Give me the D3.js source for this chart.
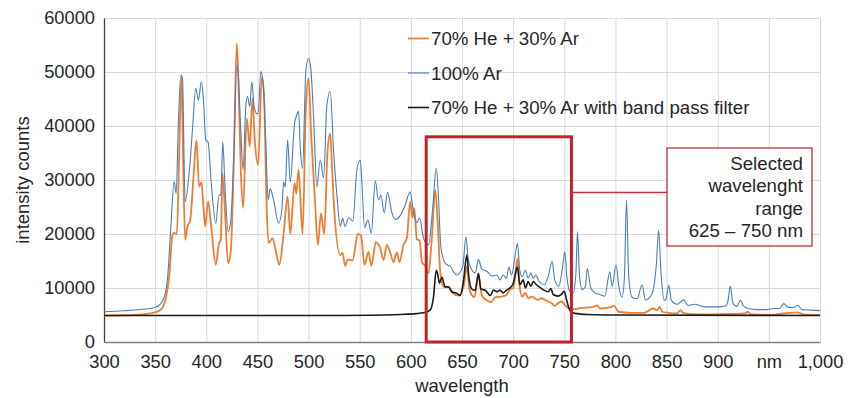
<!DOCTYPE html>
<html>
<head>
<meta charset="utf-8">
<script src="https://cdn.jsdelivr.net/npm/d3@7"></script>
<style>
  html, body { margin: 0; padding: 0; background: #fff; }
  svg { display: block; font-family: "Liberation Sans", Arial, sans-serif; }
</style>
</head>
<body>
<div id="chart"></div>
<script>
// 100% Ar
const arWl = [300, 320, 340, 350, 355, 359, 362, 365, 368.6, 370.5, 372.8, 375.1, 376.7, 379.3, 383.2, 386.5, 389.7, 392.3, 395.2, 397.2,
  399.5, 401.8, 404.4, 409.3, 412.5, 414.2, 416.1, 418.1, 421.4, 424, 427.2, 429.8, 431.1, 433.7, 436, 438.6, 440.3, 442.5, 444.5, 446.8,
  449.4, 450.7, 453.3, 455.3, 458.2, 460.5, 462.5, 465.8, 470.7, 473.9, 475.6, 477.2, 479.5, 482.1, 486.3, 488, 490.2, 491.9, 494.1, 497.4,
  500, 502, 504.9, 508.1, 511.4, 514.7, 517.9, 521.2, 524.4, 527.7, 531, 533.2, 535.8, 539.1, 543.3, 547.2, 550.5, 552.1, 554.7, 558,
  561.3, 565.2, 568.4, 570.7, 574, 577.2, 581.4, 584.7, 589.6, 594.5, 599.3, 602.6, 605.9, 608.5, 612.4, 617.3, 621.5, 624.8, 627, 629.3,
  633.6, 638.4, 644.9, 650.8, 653.8, 656, 658, 662.9, 666.1, 669.4, 674.3, 679.2, 684.1, 687, 690.2, 693.5, 695.8, 698.4, 702.3, 704.2,
  706.5, 708.8, 712, 714.7, 717.3, 719.6, 722.2, 725.4, 730.3, 734.2, 738.1, 740.7, 744.6, 747.9, 750.5, 752.5, 755.4, 758.7, 761.3, 762.9,
  764.8, 767.4, 770.7, 772.5, 775.9, 779.8, 784.7, 789.6, 794.5, 796.8, 800.6, 803.3, 806.5, 808.8, 810.8, 813, 816.3, 821.2, 826.1, 829.3,
  835.8, 840.1, 842.2, 844.6, 847.9, 849.9, 852.1, 854.7, 860.3, 866.8, 870.7, 878.2, 884.7, 892.9, 902.6, 908, 910.1, 912.2, 915, 918.9,
  922.2, 924.8, 929.4, 938.5, 948.3, 954.8, 960.6, 964.5, 968.4, 973.7, 978.2, 982.5, 990.6, 1000];
const arI = [5600, 5800, 6100, 6400, 7000, 8400, 11500, 20100, 29700, 27500, 41100, 49400, 48900, 26000, 31200, 39300, 47000, 44800, 48200, 44800,
  37400, 37000, 30600, 22000, 27200, 27200, 37100, 29600, 20400, 22600, 36200, 51300, 50000, 39300, 31900, 43600, 45500, 43600, 48200, 43600,
  42300, 42300, 50100, 48500, 36900, 26300, 28400, 26300, 22000, 24500, 29600, 28700, 37400, 29600, 40500, 41800, 42700, 36000, 32200, 50400,
  52500, 51000, 41700, 28700, 33700, 30400, 43900, 46400, 35600, 27200, 21400, 22900, 21400, 23000, 22400, 31900, 33700, 29600, 21200, 22600,
  20100, 29800, 26300, 27200, 23900, 27700, 24000, 22700, 23400, 25400, 27800, 24000, 22100, 23000, 19200, 18000, 25100, 32200, 26800, 17600,
  14600, 14000, 12400, 14000, 19500, 15500, 14000, 12800, 15300, 13500, 13100, 12200, 12400, 11500, 12400, 11800, 13900, 12400, 16400, 18300,
  13300, 12100, 13300, 11800, 12800, 11800, 12400, 11200, 10600, 12100, 14900, 11500, 10300, 13300, 16700, 12100, 9400, 9100, 12500, 20400,
  12500, 9700, 10300, 13600, 10000, 9100, 8800, 8500, 13000, 10300, 14300, 10300, 8300, 12000, 26300, 12000, 8300, 8000, 10600, 7800,
  9000, 14600, 20700, 12700, 7700, 8300, 10500, 7700, 7000, 7800, 6800, 7000, 6600, 6500, 6500, 6700, 7700, 10300, 7100, 6600,
  7700, 6800, 6200, 6000, 6000, 6200, 6200, 7100, 6500, 6400, 6800, 6000, 5900, 5800];

// 70% He + 30% Ar
const heArWl = [300, 330, 345, 355, 360.4, 363.7, 366.9, 368.6, 371.2, 373.5, 375.8, 377, 379.3, 381.6, 384.2, 387.5, 390.4, 393, 395.3, 397.2,
  398.9, 401.8, 405, 409.3, 412.5, 414.2, 415.8, 418.1, 421.4, 424, 426.6, 429.8, 431.1, 433.7, 436, 439.6, 442.5, 445.1, 447.4, 450.7,
  454.3, 456.5, 458.8, 460.8, 464.8, 468.1, 471.3, 475.6, 479.5, 482.1, 486.3, 488, 490.2, 494.1, 497.4, 500, 502.6, 505.9, 509.1, 512.1,
  515.3, 518.6, 521.2, 522.8, 525.1, 531, 533.2, 535.8, 538.5, 543, 548.2, 551.2, 554.7, 558.6, 561.3, 565.8, 570, 573.3, 576.5, 579.8,
  583, 586.3, 588.9, 592.8, 596.1, 599.3, 601.6, 603.3, 605.9, 608.5, 610.8, 614, 617.3, 620.5, 623.8, 626.1, 628.7, 632, 636.8, 641.1,
  646.6, 651.5, 654.7, 657.4, 662.2, 666.1, 669.4, 674.3, 678.5, 682.4, 688.6, 693.5, 696.7, 700, 702.3, 704.2, 706.5, 708.8, 712, 714.7,
  718, 721.2, 724.4, 727.7, 731, 734.2, 737.5, 740.7, 744, 747.2, 750.5, 753.8, 757.7, 766.8, 778.2, 782.4, 784.7, 794.5, 798.7, 803,
  814.7, 827.7, 836.8, 840.7, 843.3, 845.6, 852.1, 860.3, 863.5, 866.1, 879.8, 912.4, 927, 929.4, 932, 951.5, 964.5, 977.5, 984.1, 1000];
const heArI = [4900, 5000, 5300, 5900, 8100, 12100, 19800, 20200, 20000, 34900, 49400, 38000, 18900, 21400, 22500, 30600, 37400, 28800, 29600, 25100,
  21400, 26000, 21000, 14300, 18300, 18900, 31200, 24800, 14600, 17000, 31200, 55300, 50400, 31900, 24800, 41400, 36200, 45100, 37400, 32800,
  49100, 45700, 26300, 18300, 19200, 16700, 14300, 20000, 26900, 20000, 29400, 27500, 31900, 20000, 43600, 48800, 38100, 27500, 18000, 23800,
  20000, 35600, 38600, 33000, 24400, 16100, 16500, 14100, 15300, 15100, 20000, 19700, 14300, 16700, 14100, 18500, 17400, 15200, 18000, 16600,
  14800, 16600, 14800, 18000, 19200, 26000, 23000, 24800, 19000, 18800, 14800, 14100, 12800, 19200, 28100, 22700, 13100, 10200, 10200, 9000,
  8600, 10200, 14000, 9600, 8300, 12400, 8600, 7700, 7400, 8300, 8400, 8700, 9700, 10000, 12700, 15500, 10100, 8400, 9100, 8100,
  8400, 8100, 7800, 8100, 7800, 7500, 7200, 6700, 7200, 7500, 6900, 6300, 6050, 6300, 6500, 6800, 6200, 6400, 6700, 5600,
  5400, 5400, 6200, 5900, 6500, 5600, 5400, 5300, 5900, 5400, 5100, 5200, 5300, 5600, 5100, 5000, 5300, 5500, 5100, 5000];

// 70% He + 30% Ar with band pass filter
const filterWl = [300, 500, 560, 590, 605, 612.4, 618.9, 622.2, 624.8, 626.1, 628, 630.3, 633.6, 636.8, 640.1, 645, 648.2, 651.5, 654.7, 656.7,
  659.6, 662.9, 666.1, 668.4, 672.7, 677.6, 680.8, 684.7, 687, 690.2, 693.5, 696.7, 700, 702.3, 704.2, 706.5, 709.8, 712, 714.7, 717.3,
  719.6, 722.8, 725.4, 729.3, 734.2, 737, 739.1, 744, 747.2, 749.9, 752.1, 755.4, 760.3, 773.3, 800, 1000];
const filterI = [4900, 4900, 4950, 5100, 5250, 5400, 5900, 8400, 13300, 12700, 10900, 12000, 10200, 10200, 9300, 9000, 8600, 11400, 16100, 12000,
  9800, 9600, 12700, 9800, 9600, 8600, 9600, 9300, 9600, 9100, 9600, 10000, 10800, 12700, 13900, 10600, 11500, 10000, 11200, 10300,
  11200, 10600, 10200, 9700, 9300, 9900, 8800, 8500, 8800, 9400, 7900, 5900, 5300, 5100, 5000, 4900];

const xTicks = [300, 350, 400, 450, 500, 550, 600, 650, 700, 750, 800, 850, 900, 950, 1000];
const xTickLabels = ["300", "350", "400", "450", "500", "550", "600", "650", "700", "750", "800", "850", "900", "nm", "1,000"];
const yTicks = [0, 10000, 20000, 30000, 40000, 50000, 60000];

const seriesNames = ["70% He + 30% Ar", "100% Ar", "70% He + 30% Ar with band pass filter"];
const calloutLines = ["Selected", "wavelenght", "range", "625 \u2013 750 nm"];
// selected band: wavelength range and box height (intensity)
const bandWl = [615, 757];
const bandTop = 38000;

const width = 858;
const height = 398;
const margin = { top: 18, right: 38, bottom: 56, left: 104 };

const svg = d3
  .select("#chart")
  .append("svg")
  .attr("width", width)
  .attr("height", height);

const x = d3.scaleLinear().domain([300, 1000]).range([margin.left, width - margin.right]);
const y = d3.scaleLinear().domain([0, 60000]).range([height - margin.bottom, margin.top]);

// gridlines
svg
  .append("g")
  .attr("stroke", "#d9d9d9")
  .attr("stroke-width", 1)
  .call((g) =>
    g.selectAll("line.v")
      .data(xTicks.slice(1))
      .join("line")
      .attr("x1", (d) => x(d) + 0.5)
      .attr("x2", (d) => x(d) + 0.5)
      .attr("y1", y(60000))
      .attr("y2", y(0))
  )
  .call((g) =>
    g.selectAll("line.h")
      .data(yTicks.slice(1))
      .join("line")
      .attr("x1", x(300))
      .attr("x2", x(1000))
      .attr("y1", (d) => y(d) + 0.5)
      .attr("y2", (d) => y(d) + 0.5)
  );

// axes
const xAxis = d3
  .axisBottom(x)
  .tickValues(xTicks)
  .tickSize(0)
  .tickPadding(13)
  .tickFormat((d, i) => xTickLabels[i]);

const yAxis = d3.axisLeft(y).tickValues(yTicks).tickSize(0).tickPadding(9).tickFormat(d3.format("d"));

svg
  .append("g")
  .attr("transform", `translate(0,${y(0)})`)
  .call(xAxis)
  .call((g) => g.select(".domain").attr("stroke", "#808080").attr("stroke-width", 1.5))
  .call((g) => g.selectAll("text").attr("font-size", 18.3).attr("fill", "#262626").attr("font-family", null));

svg
  .append("g")
  .attr("transform", `translate(${x(300)},0)`)
  .call(yAxis)
  .call((g) => g.select(".domain").attr("stroke", "#404040").attr("stroke-width", 1.3))
  .call((g) => g.selectAll("text").attr("font-size", 18.3).attr("fill", "#262626").attr("font-family", null));

svg
  .append("text")
  .attr("transform", `translate(29,${(y(0) + y(60000)) / 2}) rotate(-90)`)
  .attr("text-anchor", "middle")
  .attr("font-size", 18.5)
  .attr("fill", "#262626")
  .text("intensity counts");

svg
  .append("text")
  .attr("x", (x(300) + x(1000)) / 2)
  .attr("y", 392)
  .attr("text-anchor", "middle")
  .attr("font-size", 18.5)
  .attr("fill", "#262626")
  .text("wavelength");

// spectra
const series = [
  { name: seriesNames[0], wl: heArWl, val: heArI, color: "#ed7d31", width: 1.8 },
  { name: seriesNames[1], wl: arWl, val: arI, color: "#4a7ebb", width: 1.1 },
  { name: seriesNames[2], wl: filterWl, val: filterI, color: "#1a1a1a", width: 1.6 },
];

const line = d3
  .line()
  .x((d) => x(d[0]))
  .y((d) => y(d[1]))
  .curve(d3.curveMonotoneX);

svg
  .append("g")
  .attr("fill", "none")
  .selectAll("path")
  .data(series)
  .join("path")
  .attr("stroke", (d) => d.color)
  .attr("stroke-width", (d) => d.width)
  .attr("stroke-linejoin", "round")
  .attr("d", (d) => line(d.wl.map((w, i) => [w, d.val[i]])));

// legend
const legend = svg
  .append("g")
  .selectAll("g")
  .data(series)
  .join("g")
  .attr("transform", (d, i) => `translate(408,${38.5 + i * 34.5})`);

legend
  .append("line")
  .attr("x1", 0)
  .attr("x2", 21)
  .attr("stroke", (d) => d.color)
  .attr("stroke-width", (d) => d.width);

legend
  .append("text")
  .attr("x", 23)
  .attr("dy", "0.35em")
  .attr("font-size", 18.7)
  .attr("fill", "#262626")
  .text((d) => d.name);

// selected band box + callout
const red = "#c0232b";
svg
  .append("rect")
  .attr("x", x(bandWl[0]))
  .attr("y", y(bandTop))
  .attr("width", x(bandWl[1]) - x(bandWl[0]))
  .attr("height", y(0) - y(bandTop))
  .attr("fill", "none")
  .attr("stroke", red)
  .attr("stroke-width", 3);

const callout = { x: 667, y: 148, w: 145, h: 98 };

svg
  .append("line")
  .attr("x1", x(bandWl[1]))
  .attr("x2", callout.x)
  .attr("y1", 192.5)
  .attr("y2", 192.5)
  .attr("stroke", "#c4313a")
  .attr("stroke-width", 1.3);

svg
  .append("rect")
  .attr("x", callout.x)
  .attr("y", callout.y)
  .attr("width", callout.w)
  .attr("height", callout.h)
  .attr("fill", "#fff")
  .attr("stroke", "#c4313a")
  .attr("stroke-width", 1.3);

svg
  .append("g")
  .selectAll("text")
  .data(calloutLines)
  .join("text")
  .attr("x", callout.x + callout.w - 9)
  .attr("y", (d, i) => 170 + i * 22.3)
  .attr("text-anchor", "end")
  .attr("font-size", 18.7)
  .attr("fill", "#262626")
  .text((d) => d);
</script>
</body>
</html>
